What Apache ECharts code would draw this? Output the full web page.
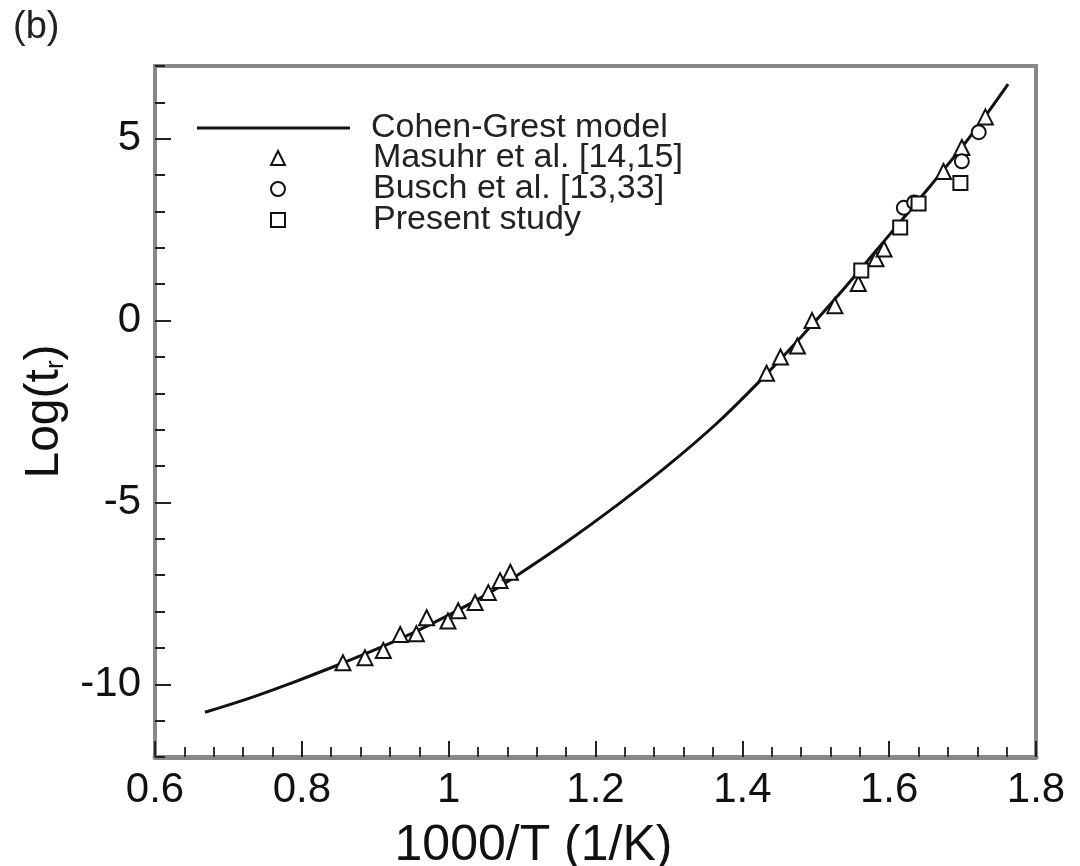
<!DOCTYPE html>
<html>
<head>
<meta charset="utf-8">
<script src="https://cdn.jsdelivr.net/npm/echarts@6/dist/echarts.min.js"></script>
<style>html,body{margin:0;padding:0;background:#fff;}#c{width:1080px;height:866px;}</style>
</head>
<body>
<div id="c"></div>
<script>
// Cohen-Grest model curve
const cgX = [0.668,0.729,0.784,0.838,0.900,0.950,1.000,1.050,1.092,1.161,1.229,1.297,1.365,1.422,1.480,1.533,1.600,1.656,1.710,1.762];
const cgY = [-10.77,-10.38,-9.98,-9.56,-9.05,-8.60,-8.10,-7.55,-7.02,-6.08,-5.08,-4.01,-2.83,-1.70,-0.45,0.75,2.35,3.70,5.05,6.50];
// Masuhr et al. [14,15]
const masuhrX = [0.856,0.886,0.911,0.934,0.956,0.970,0.999,1.013,1.036,1.054,1.070,1.084,1.433,1.452,1.475,1.495,1.526,1.558,1.582,1.593,1.674,1.699,1.731];
const masuhrY = [-9.41,-9.27,-9.07,-8.63,-8.61,-8.17,-8.26,-7.98,-7.75,-7.48,-7.15,-6.92,-1.45,-1.00,-0.70,0.00,0.41,1.02,1.70,1.97,4.10,4.76,5.60];
// Busch et al. [13,33]
const buschX = [1.620,1.634,1.699,1.722];
const buschY = [3.10,3.25,4.38,5.18];
// Present study
const presentX = [1.562,1.615,1.640,1.697];
const presentY = [1.38,2.56,3.22,3.78];

const yMajor = [-10,-5,0,5];

const zip = (a,b) => a.map((v,i)=>[v,b[i]]);
const FONT = '"Liberation Sans", Arial, sans-serif';
const chart = echarts.init(document.getElementById('c'), null, {renderer:'canvas'});
const mk = {color:'#fff', borderColor:'#111', borderWidth:2, opacity:1};
const legText = {fontFamily:FONT, fontSize:34, color:'#222', lineHeight:31};

chart.setOption({
  animation:false,
  backgroundColor:'#fff',
  title:{text:'(b)', left:8, top:4, textStyle:{fontFamily:FONT, fontSize:38, fontWeight:'normal', color:'#222'}},
  grid:{left:155, right:44, top:66, bottom:109, show:true, borderColor:'#888', borderWidth:4,
        backgroundColor:'transparent', containLabel:false, outerBoundsMode:'none'},
  legend:[{
    orient:'vertical', left:192, top:106, itemWidth:153, itemHeight:3, itemGap:0,
    textStyle:Object.assign({padding:[0,0,0,16]}, legText),
    data:[{name:'Cohen-Grest model', icon:'rect', itemStyle:{color:'#111'}}]
  },{
    orient:'vertical', left:265, top:136, itemWidth:14, itemHeight:14, itemGap:-3,
    textStyle:Object.assign({padding:[0,0,0,83]}, legText),
    data:['Masuhr et al. [14,15]','Busch et al. [13,33]','Present study']
  }],
  xAxis:{
    type:'value', min:0.6, max:1.8, interval:0.2,
    axisLine:{onZero:false, lineStyle:{color:'#888', width:5}},
    axisTick:{inside:true, length:16, lineStyle:{color:'#222', width:2}},
    minorTick:{show:true, splitNumber:5, length:10, lineStyle:{color:'#333', width:2}},
    splitLine:{show:false},
    axisLabel:{fontFamily:FONT, fontSize:42, color:'#111', margin:12},
    name:'1000/T (1/K)', nameLocation:'middle', nameGap:64,
    nameTextStyle:{fontFamily:FONT, fontSize:50, color:'#111', padding:[0,124,0,0]}
  },
  yAxis:[{
    type:'value', min:-12, max:7, interval:1,
    axisLine:{onZero:false, lineStyle:{color:'#888', width:4}},
    axisTick:{inside:true, length:10, lineStyle:{color:'#222', width:2}},
    splitLine:{show:false},
    axisLabel:{fontFamily:FONT, fontSize:42, color:'#111', margin:14,
      formatter:v => (v % 5 === 0 ? String(v) : '')},
    name:'Log(t{s|r})', nameLocation:'middle', nameGap:86, nameRotate:90,
    nameTextStyle:{fontFamily:FONT, fontSize:48, color:'#111',
      rich:{s:{fontFamily:FONT, fontSize:26, color:'#111', verticalAlign:'bottom'}}}
  },{
    type:'value', min:-12, max:7, position:'left', offset:0,
    axisLine:{show:false, onZero:false},
    axisTick:{show:true, inside:true, length:16, customValues:yMajor, lineStyle:{color:'#222', width:2}},
    axisLabel:{show:false},
    splitLine:{show:false}
  }],
  series:[
    {name:'Cohen-Grest model', type:'line', data:zip(cgX,cgY), smooth:0.35, symbol:'none',
     lineStyle:{color:'#111', width:3}, itemStyle:{color:'#111'}, z:2},
    {name:'Masuhr et al. [14,15]', type:'scatter', data:zip(masuhrX,masuhrY), symbol:'triangle', symbolSize:15, itemStyle:mk, z:3},
    {name:'Busch et al. [13,33]', type:'scatter', data:zip(buschX,buschY), symbol:'circle', symbolSize:14, itemStyle:mk, z:3},
    {name:'Present study', type:'scatter', data:zip(presentX,presentY), symbol:'rect', symbolSize:14, itemStyle:mk, z:4}
  ]
});
</script>
</body>
</html>
